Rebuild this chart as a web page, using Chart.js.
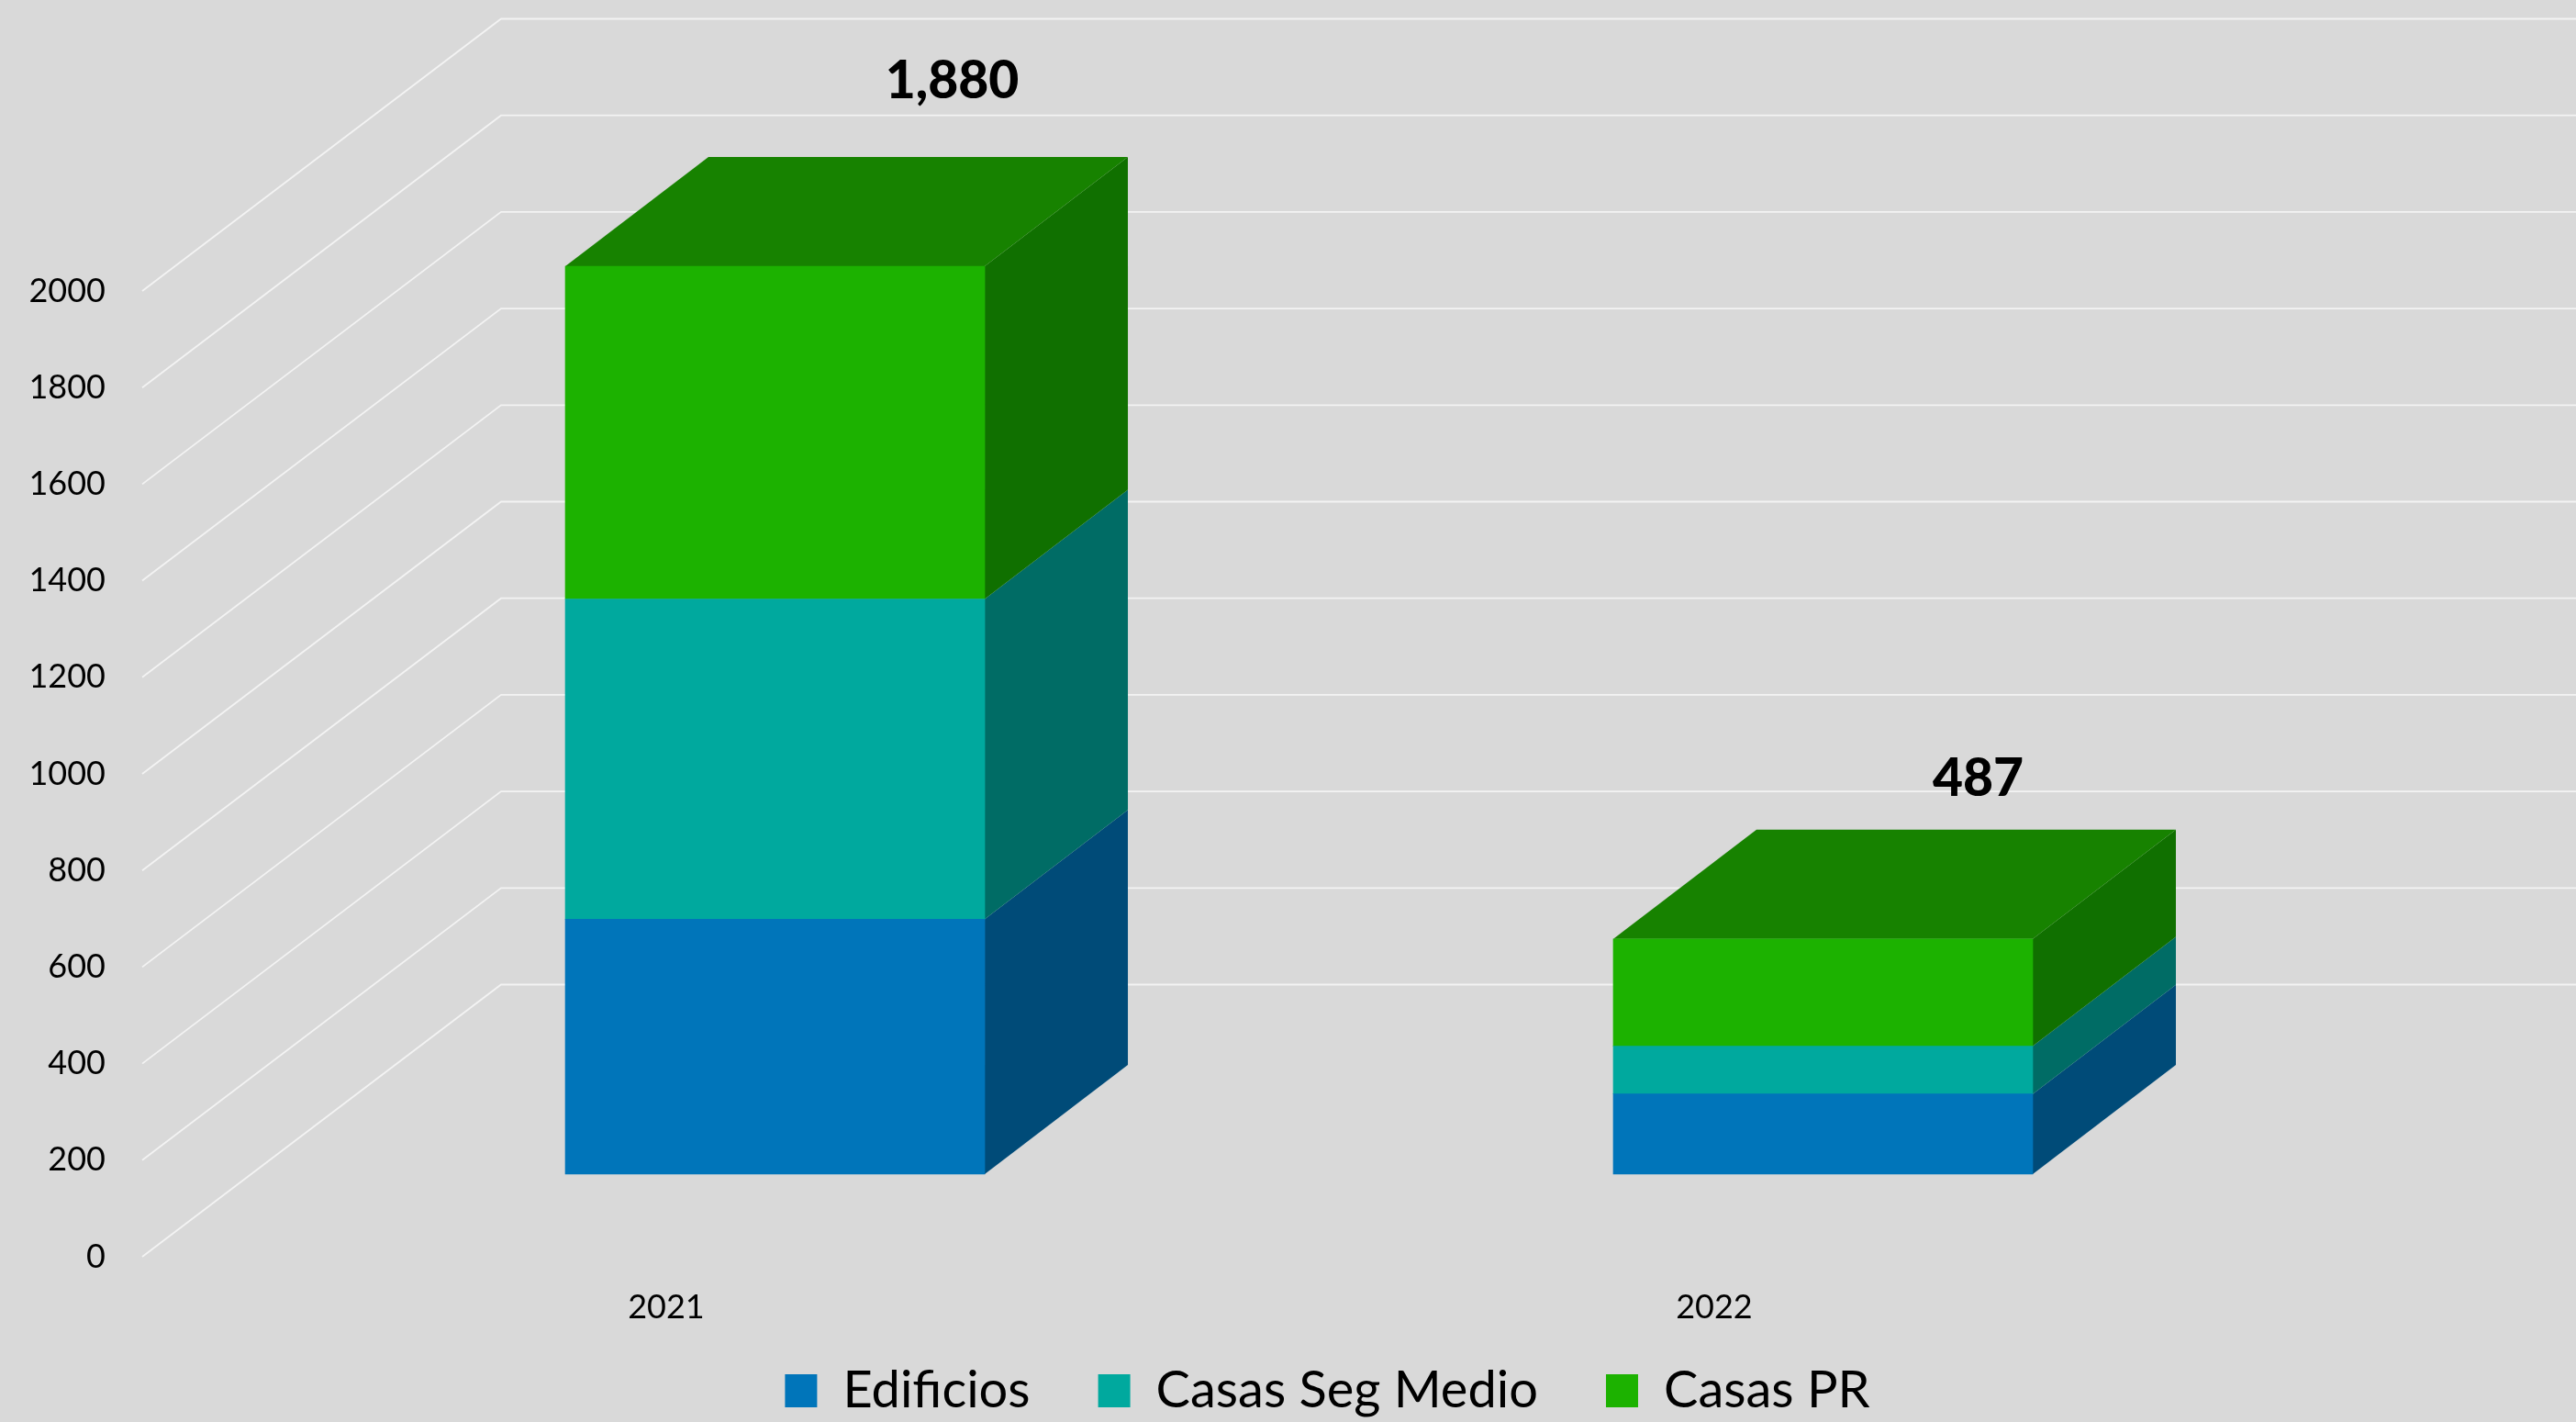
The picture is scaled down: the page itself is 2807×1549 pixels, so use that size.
<!DOCTYPE html>
<html>
<head>
<meta charset="utf-8">
<style>html,body{margin:0;padding:0;background:#D9D9D9;overflow:hidden}canvas{display:block}</style>
<script src="https://cdn.jsdelivr.net/npm/chart.js@4/dist/chart.umd.min.js"></script>
</head>
<body>
<canvas id="c" width="2807" height="1549"></canvas>
<script>
const categories = ['2021', '2022'];
const edificios = [528, 166];
const casasSegMedio = [663, 99];
const casasPR = [689, 222];
const yTickValues = [0, 200, 400, 600, 800, 1000, 1200, 1400, 1600, 1800, 2000];

const FONT = 'Lato';
const DEPTH_WALL = {dx: 391, dy: -296.5};
const DEPTH_BAR = {dx: 156, dy: -119};
const LABEL_OFFSET = [[193, -201], [169, -174]];
const SIDE = ['#004B78', '#006C65', '#107000'];
const TOP = '#178200';
const LEGEND_SHIFT_X = 43;
const LEGEND_TOP = 1413;

const toPoints = arr => arr.map((v, i) => ({x: i, y: v}));

const scene = {
  id: 'scene',
  afterLayout(chart) {
    const lg = chart.legend;
    lg.left += LEGEND_SHIFT_X;
    lg.right += LEGEND_SHIFT_X;
    lg.top = LEGEND_TOP;
    lg.bottom = chart.height;
    lg.height = lg.bottom - lg.top;
  },
  beforeDatasetsDraw(chart) {
    const ctx = chart.ctx, sx = chart.scales.xFront, sy = chart.scales.yFront;
    ctx.save();
    ctx.strokeStyle = '#F3F3F3';
    ctx.lineWidth = 1.8;
    yTickValues.forEach(v => {
      const y = sy.getPixelForValue(v);
      ctx.beginPath();
      ctx.moveTo(sx.left, y);
      ctx.lineTo(sx.left + DEPTH_WALL.dx, y + DEPTH_WALL.dy);
      ctx.lineTo(sx.right, y + DEPTH_WALL.dy);
      ctx.stroke();
    });
    chart.data.datasets.forEach((ds, d) => {
      chart.getDatasetMeta(d).data.forEach(bar => {
        const p = bar.getProps(['x', 'y', 'base', 'width'], true);
        const r = p.x + p.width / 2, l = p.x - p.width / 2;
        ctx.fillStyle = SIDE[d];
        ctx.beginPath();
        ctx.moveTo(r, p.y);
        ctx.lineTo(r, p.base);
        ctx.lineTo(r + DEPTH_BAR.dx, p.base + DEPTH_BAR.dy);
        ctx.lineTo(r + DEPTH_BAR.dx, p.y + DEPTH_BAR.dy);
        ctx.closePath();
        ctx.fill();
        if (d === chart.data.datasets.length - 1) {
          ctx.fillStyle = TOP;
          ctx.beginPath();
          ctx.moveTo(l, p.y);
          ctx.lineTo(r, p.y);
          ctx.lineTo(r + DEPTH_BAR.dx, p.y + DEPTH_BAR.dy);
          ctx.lineTo(l + DEPTH_BAR.dx, p.y + DEPTH_BAR.dy);
          ctx.closePath();
          ctx.fill();
        }
      });
    });
    ctx.restore();
  },
  afterDatasetsDraw(chart) {
    const ctx = chart.ctx, last = chart.data.datasets.length - 1;
    ctx.save();
    ctx.fillStyle = '#000';
    ctx.font = '900 57px ' + FONT;
    ctx.textAlign = 'center';
    ctx.textBaseline = 'middle';
    chart.getDatasetMeta(last).data.forEach((bar, i) => {
      const p = bar.getProps(['x', 'y'], true);
      const total = edificios[i] + casasSegMedio[i] + casasPR[i];
      ctx.fillText(total.toLocaleString('en-US'), p.x + LABEL_OFFSET[i][0], p.y + LABEL_OFFSET[i][1]);
    });
    ctx.restore();
  }
};

const barSet = (label, values, color) => ({
  label, data: toPoints(values), backgroundColor: color,
  xAxisID: 'xBar', yAxisID: 'yBar', barThickness: 457, borderWidth: 0
});

new Chart(document.getElementById('c'), {
  type: 'bar',
  data: {
    datasets: [
      barSet('Edificios', edificios, '#0075BA'),
      barSet('Casas Seg Medio', casasSegMedio, '#00A99E'),
      barSet('Casas PR', casasPR, '#1CB200')
    ]
  },
  plugins: [scene],
  options: {
    responsive: false,
    animation: false,
    layout: {padding: {left: 0, right: 0, top: 19, bottom: 0}},
    plugins: {
      tooltip: {enabled: false},
      title: {display: false},
      legend: {
        position: 'bottom',
        maxHeight: 81,
        labels: {
          boxWidth: 35, boxHeight: 36, padding: 74, color: '#000',
          font: {family: FONT, size: 56}
        }
      }
    },
    scales: {
      xBar: {type: 'linear', axis: 'x', display: false, offset: false, stacked: true, min: -0.6038, max: 1.7185},
      yBar: {type: 'linear', axis: 'y', display: false, stacked: true, min: -171.1, max: 2395.4},
      xFront: {
        type: 'linear', axis: 'x', position: 'bottom', offset: false, min: -0.5, max: 1.8223,
        grid: {display: false, drawTicks: false}, border: {display: false},
        afterFit(s) { s.height = 99; s.paddingLeft = 0; s.paddingRight = 0; },
        afterBuildTicks(s) { s.ticks = categories.map((c, i) => ({value: i})); },
        ticks: {
          padding: 34, color: '#000', font: {family: FONT, size: 36}, maxRotation: 0,
          callback: v => categories[v]
        }
      },
      yFront: {
        type: 'linear', axis: 'y', position: 'left', min: 0, max: 2566.5,
        grid: {display: false, drawTicks: false}, border: {display: false},
        afterFit(s) { s.width = 155; s.paddingTop = 0; s.paddingBottom = 0; },
        afterBuildTicks(s) { s.ticks = yTickValues.map(v => ({value: v})); },
        ticks: {
          padding: 40, color: '#000', font: {family: FONT, size: 36},
          callback: v => String(v)
        }
      }
    }
  }
});
</script>
</body>
</html>
